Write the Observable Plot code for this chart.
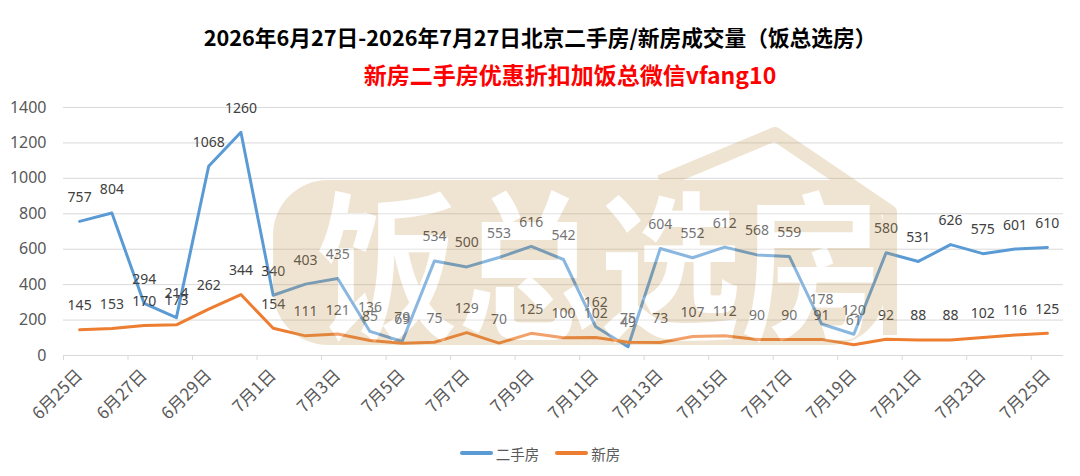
<!DOCTYPE html>
<html><head><meta charset="utf-8">
<script src="https://cdn.jsdelivr.net/npm/d3@7"></script>
<script src="https://cdn.jsdelivr.net/npm/@observablehq/plot@0.6"></script>
<style>
body{margin:0;background:#fff;width:1080px;height:476px;overflow:hidden;font-family:"Noto Sans","Noto Sans CJK SC",sans-serif;}
#head{height:95px;position:relative;}
#t1{position:absolute;top:22px;left:0;width:1080px;text-align:center;font-weight:bold;font-size:21.7px;font-family:"Noto Sans CJK SC",sans-serif;color:#000;line-height:30px;}
#t2{position:absolute;top:59px;left:30px;width:1080px;text-align:center;font-weight:bold;font-size:23px;font-family:"Noto Sans CJK SC",sans-serif;color:#ff0000;line-height:30px;}
#chart{height:340px;}
#legend{height:36px;display:flex;justify-content:center;align-items:center;font-size:14.5px;color:#595959;font-family:"Noto Sans CJK SC",sans-serif;}
.sw{display:inline-block;width:33px;height:4px;border-radius:2px;margin-right:3px;}
.it{display:flex;align-items:center;margin:0 8px;}
</style></head>
<body>
<div id="head"><div id="t1">2026年6月27日-2026年7月27日北京二手房/新房成交量（饭总选房）</div><div id="t2">新房二手房优惠折扣加饭总微信vfang10</div></div>
<div id="chart"></div>
<div id="legend"><span class="it"><span class="sw" style="background:#5b9bd5"></span>二手房</span><span class="it"><span class="sw" style="background:#ed7d31"></span>新房</span></div>
<script>
const dates = ["6月25日","6月26日","6月27日","6月28日","6月29日","6月30日","7月1日","7月2日","7月3日","7月4日","7月5日","7月6日","7月7日","7月8日","7月9日","7月10日","7月11日","7月12日","7月13日","7月14日","7月15日","7月16日","7月17日","7月18日","7月19日","7月20日","7月21日","7月22日","7月23日","7月24日","7月25日"];
const secondHand = [757,804,294,214,1068,1260,340,403,435,136,79,534,500,553,616,542,162,49,604,552,612,568,559,178,120,580,531,626,575,601,610];
const newHome = [145,153,170,173,262,344,154,111,121,85,69,75,129,70,125,100,102,75,73,107,112,90,90,91,61,92,88,88,102,116,125];
const yTicks = [0,200,400,600,800,1000,1200,1400];

const idx = d3.range(dates.length);
const labelIdx = idx.filter(i => i % 2 === 0);
const boundaries = d3.range(-0.5, dates.length, 2);

const chart = Plot.plot({
  width: 1080, height: 340,
  marginTop: 12, marginBottom: 80, marginLeft: 63, marginRight: 17,
  x: {type: "linear", domain: [-0.5, dates.length - 0.5]},
  y: {domain: [0, 1400]},
  style: {fontFamily: "'Noto Sans','Noto Sans CJK SC',sans-serif", fontSize: "14px", color: "#595959", background: "transparent"},
  marks: [
    Plot.gridY(yTicks, {stroke: "#d9d9d9", strokeOpacity: 1, strokeWidth: 1}),
    Plot.axisY(yTicks, {tickSize: 0, tickPadding: 17, fontSize: 16, label: null, tickFormat: d => String(d), fill: "#595959"}),
    Plot.axisX(boundaries, {tickSize: 5, tickFormat: () => "", stroke: "#d9d9d9", strokeOpacity: 1, label: null}),
    Plot.axisX(labelIdx, {tickSize: 0, tickRotate: -45, tickPadding: 17, tickFormat: i => dates[i], label: null, fontSize: 17, fontFamily: "'Noto Sans CJK SC',sans-serif", fill: "#595959"}),
    Plot.line(idx, {x: i => i, y: i => secondHand[i], stroke: "#5b9bd5", strokeWidth: 3, strokeLinejoin: "round", strokeLinecap: "round"}),
    Plot.line(idx, {x: i => i, y: i => newHome[i], stroke: "#ed7d31", strokeWidth: 3, strokeLinejoin: "round", strokeLinecap: "round"}),
    Plot.text(idx, {x: i => i, y: i => secondHand[i], text: i => String(secondHand[i]), dy: -24, fill: "#404040", fontSize: 14}),
    Plot.text(idx, {x: i => i, y: i => newHome[i], text: i => String(newHome[i]), dy: -24, fill: "#404040", fontSize: 14})
  ]
});
document.getElementById("chart").appendChild(chart);

// watermark overlay (decoration)
const svg = d3.select(chart);
const off = 95;
const wm = svg.append("g").attr("opacity", 0.28).attr("pointer-events", "none");
wm.append("rect").attr("x", 273).attr("y", 180 - off).attr("width", 612).attr("height", 165).attr("rx", 55).attr("fill", "#c8a060");
wm.append("path").attr("d", `M660,${182 - off} L775,${134 - off} L890,${212 - off} L890,${335 - off}`).attr("fill", "none").attr("stroke", "#c8a060").attr("stroke-width", 14).attr("stroke-linejoin", "round");
wm.append("text").attr("x", 317).attr("y", 327 - off).attr("font-size", 160).attr("font-weight", "bold")
  .attr("text-anchor", "start")
  .attr("font-family", "'Noto Sans CJK SC',sans-serif").attr("fill", "#ffffff")
  .attr("textLength", 565).attr("lengthAdjust", "spacingAndGlyphs").text("饭总选房");
</script>
</body></html>
